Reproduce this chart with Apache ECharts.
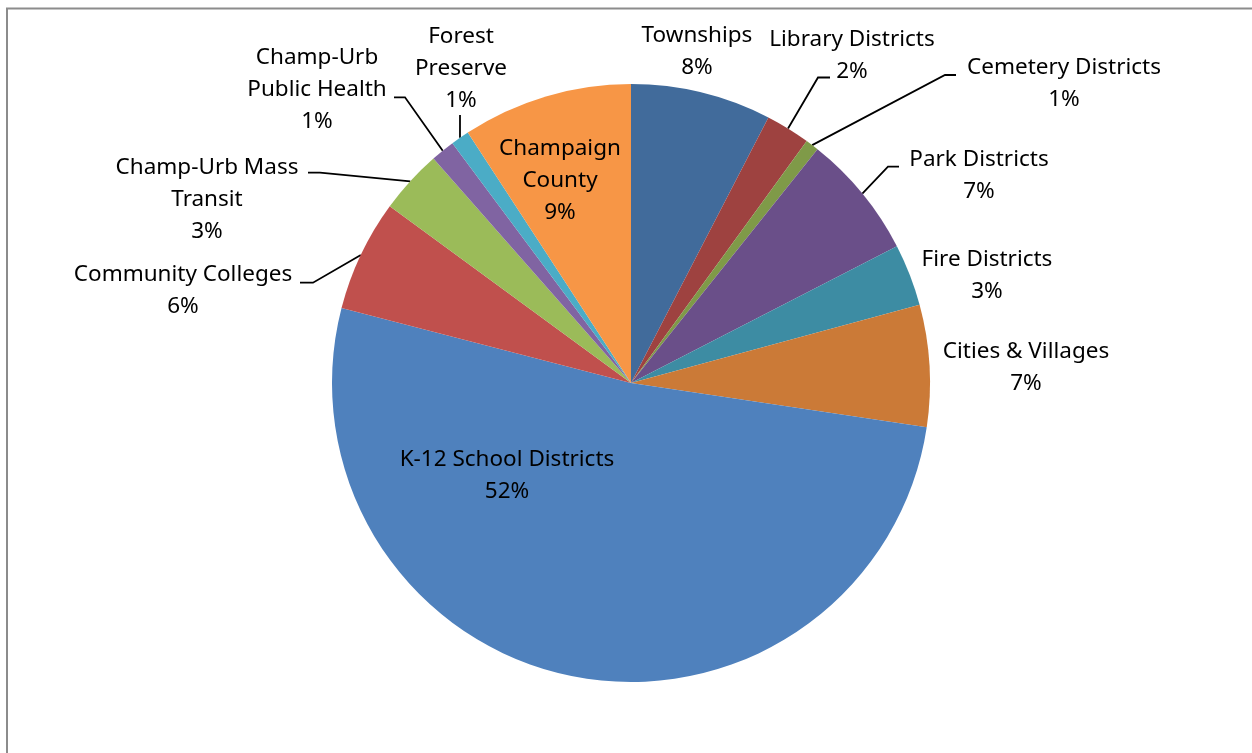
<!DOCTYPE html>
<html>
<head>
<meta charset="utf-8">
<script src="https://cdn.jsdelivr.net/npm/echarts@6/dist/echarts.min.js"></script>
<style>
  html, body { margin: 0; padding: 0; background: #ffffff; }
  #chart { width: 1252px; height: 753px; }
</style>
</head>
<body>
<div id="chart"></div>
<script>
// ---- data ----
const categories = [
  'Townships', 'Library Districts', 'Cemetery Districts', 'Park Districts',
  'Fire Districts', 'Cities & Villages', 'K-12 School Districts',
  'Community Colleges', 'Champ-Urb Mass Transit', 'Champ-Urb Public Health',
  'Forest Preserve', 'Champaign County'
];
const shares = [7.6, 2.4, 0.72, 6.72, 3.35, 6.57, 51.67, 6.03, 3.45, 1.3, 1.0, 9.19];
// label text as wrapped in the original
const labelNames = [
  'Townships', 'Library Districts', 'Cemetery Districts', 'Park Districts',
  'Fire Districts', 'Cities & Villages', 'K-12 School Districts',
  'Community Colleges', 'Champ-Urb Mass\nTransit', 'Champ-Urb\nPublic Health',
  'Forest\nPreserve', 'Champaign\nCounty'
];

// ---- style / layout ----
const colors = ['#416B9B', '#9E4240', '#7F9A48', '#6A4F89', '#3D8CA3', '#CB7A37',
                '#4F81BD', '#C0504D', '#9BBB59', '#8064A2', '#4BACC6', '#F79646'];
const labelCenters = [
  [697, 52], [852, 56], [1064, 84], [979, 176], [987, 276], [1026, 368],
  [507, 476], [183, 291], [207, 200], [317, 90], [461, 68.5], [560, 180.5]
];
// leader line: [bend, end] for labels that have one
const leaders = {
  1: [[818, 77.5], [830, 77.5]],
  2: [[945, 75], [956, 75]],
  3: [[888, 166.7], [899, 166.7]],
  7: [[313, 282.7], [300, 282.7]],
  8: [[320, 172.7], [308, 172.7]],
  9: [[405, 97.3], [394, 97.3]],
  10: [[460, 118], [460, 115]]
};

const chart = echarts.init(document.getElementById('chart'), null, { renderer: 'canvas' });

const seriesData = categories.map((name, i) => ({
  name: name,
  value: shares[i],
  itemStyle: { color: colors[i] },
  labelLine: { show: leaders[i] !== undefined }
}));

chart.setOption({
  animation: false,
  backgroundColor: '#ffffff',
  graphic: [{
    type: 'rect',
    shape: { x: 7, y: 8.5, width: 1300, height: 800 },
    style: { fill: 'none', stroke: '#8c8c8c', lineWidth: 2 },
    silent: true
  }],
  series: [{
    type: 'pie',
    center: [631, 383],
    radius: 299,
    startAngle: 90,
    clockwise: true,
    avoidLabelOverlap: false,
    data: seriesData,
    itemStyle: { borderWidth: 0 },
    label: {
      show: true,
      position: 'outside',
      fontFamily: 'Noto Sans',
      fontSize: 22.5,
      lineHeight: 32,
      color: '#000000',
      align: 'center',
      formatter: function (p) {
        return labelNames[p.dataIndex] + '\n' + Math.round(p.percent) + '%';
      }
    },
    labelLine: {
      lineStyle: { color: '#000000', width: 1.8 },
      smooth: false
    },
    emphasis: { disabled: true }
  }]
});

chart.setOption({
  series: [{
    labelLayout: function (params) {
      const i = params.dataIndex;
      const c = labelCenters[i];
      const res = { x: c[0], y: c[1], align: 'center', verticalAlign: 'middle' };
      if (leaders[i] && params.labelLinePoints) {
        const start = params.labelLinePoints[0];
        res.labelLinePoints = [[start[0], start[1]], leaders[i][0], leaders[i][1]];
      }
      return res;
    }
  }]
});
</script>
</body>
</html>
